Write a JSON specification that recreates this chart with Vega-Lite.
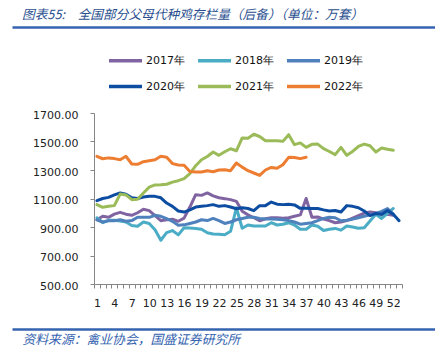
{
"$schema":"https://vega.github.io/schema/vega-lite/v6.json",
"padding":{"left":12,"top":9,"right":0,"bottom":0},
"background":"white",
"width":423,"height":171,
"config":{"view":{"stroke":null},"font":"DejaVu Sans"},
"title":{"text":"图表55:　全国部分父母代种鸡存栏量（后备）（单位：万套）","anchor":"start","frame":"group","dx":10,"offset":5,"font":"Noto Sans CJK SC","fontSize":12.7,"fontStyle":"italic","fontWeight":"normal","color":"#2a4f8f"},
"resolve":{"scale":{"x":"independent"},"axis":{"x":"independent"}},
"layer":[
{"data":{"values":[
{"s":"2017年","w":1,"v":951},{"s":"2017年","w":2,"v":975},{"s":"2017年","w":3,"v":968},{"s":"2017年","w":4,"v":990},{"s":"2017年","w":5,"v":1003},{"s":"2017年","w":6,"v":990},{"s":"2017年","w":7,"v":982},{"s":"2017年","w":8,"v":1000},{"s":"2017年","w":9,"v":1025},{"s":"2017年","w":10,"v":1015},{"s":"2017年","w":11,"v":980},{"s":"2017年","w":12,"v":944},{"s":"2017年","w":13,"v":950},{"s":"2017年","w":14,"v":955},{"s":"2017年","w":15,"v":940},{"s":"2017年","w":16,"v":962},{"s":"2017年","w":17,"v":1040},{"s":"2017年","w":18,"v":1127},{"s":"2017年","w":19,"v":1122},{"s":"2017年","w":20,"v":1139},{"s":"2017年","w":21,"v":1118},{"s":"2017年","w":22,"v":1105},{"s":"2017年","w":23,"v":1099},{"s":"2017年","w":24,"v":1092},{"s":"2017年","w":25,"v":1080},{"s":"2017年","w":26,"v":1010},{"s":"2017年","w":27,"v":985},{"s":"2017年","w":28,"v":965},{"s":"2017年","w":29,"v":944},{"s":"2017年","w":30,"v":958},{"s":"2017年","w":31,"v":965},{"s":"2017年","w":32,"v":965},{"s":"2017年","w":33,"v":962},{"s":"2017年","w":34,"v":965},{"s":"2017年","w":35,"v":975},{"s":"2017年","w":36,"v":985},{"s":"2017年","w":37,"v":1100},{"s":"2017年","w":38,"v":968},{"s":"2017年","w":39,"v":970},{"s":"2017年","w":40,"v":955},{"s":"2017年","w":41,"v":945},{"s":"2017年","w":42,"v":930},{"s":"2017年","w":43,"v":935},{"s":"2017年","w":44,"v":945},{"s":"2017年","w":45,"v":963},{"s":"2017年","w":46,"v":980},{"s":"2017年","w":47,"v":998},{"s":"2017年","w":48,"v":1005},{"s":"2017年","w":49,"v":1000},{"s":"2017年","w":50,"v":988},{"s":"2017年","w":51,"v":990},{"s":"2017年","w":52,"v":982},
{"s":"2018年","w":1,"v":965},{"s":"2018年","w":2,"v":930},{"s":"2018年","w":3,"v":947},{"s":"2018年","w":4,"v":947},{"s":"2018年","w":5,"v":942},{"s":"2018年","w":6,"v":935},{"s":"2018年","w":7,"v":910},{"s":"2018年","w":8,"v":905},{"s":"2018年","w":9,"v":935},{"s":"2018年","w":10,"v":925},{"s":"2018年","w":11,"v":880},{"s":"2018年","w":12,"v":807},{"s":"2018年","w":13,"v":860},{"s":"2018年","w":14,"v":875},{"s":"2018年","w":15,"v":845},{"s":"2018年","w":16,"v":895},{"s":"2018年","w":17,"v":893},{"s":"2018年","w":18,"v":890},{"s":"2018年","w":19,"v":884},{"s":"2018年","w":20,"v":860},{"s":"2018年","w":21,"v":851},{"s":"2018年","w":22,"v":849},{"s":"2018年","w":23,"v":845},{"s":"2018年","w":24,"v":870},{"s":"2018年","w":25,"v":1035},{"s":"2018年","w":26,"v":891},{"s":"2018年","w":27,"v":914},{"s":"2018年","w":28,"v":907},{"s":"2018年","w":29,"v":907},{"s":"2018年","w":30,"v":907},{"s":"2018年","w":31,"v":930},{"s":"2018年","w":32,"v":914},{"s":"2018年","w":33,"v":919},{"s":"2018年","w":34,"v":930},{"s":"2018年","w":35,"v":914},{"s":"2018年","w":36,"v":884},{"s":"2018年","w":37,"v":884},{"s":"2018年","w":38,"v":914},{"s":"2018年","w":39,"v":905},{"s":"2018年","w":40,"v":875},{"s":"2018年","w":41,"v":884},{"s":"2018年","w":42,"v":890},{"s":"2018年","w":43,"v":878},{"s":"2018年","w":44,"v":907},{"s":"2018年","w":45,"v":900},{"s":"2018年","w":46,"v":891},{"s":"2018年","w":47,"v":895},{"s":"2018年","w":48,"v":942},{"s":"2018年","w":49,"v":990},{"s":"2018年","w":50,"v":960},{"s":"2018年","w":51,"v":995},{"s":"2018年","w":52,"v":1030},
{"s":"2019年","w":1,"v":951},{"s":"2019年","w":2,"v":935},{"s":"2019年","w":3,"v":944},{"s":"2019年","w":4,"v":944},{"s":"2019年","w":5,"v":951},{"s":"2019年","w":6,"v":940},{"s":"2019年","w":7,"v":945},{"s":"2019年","w":8,"v":968},{"s":"2019年","w":9,"v":968},{"s":"2019年","w":10,"v":968},{"s":"2019年","w":11,"v":982},{"s":"2019年","w":12,"v":975},{"s":"2019年","w":13,"v":958},{"s":"2019年","w":14,"v":940},{"s":"2019年","w":15,"v":912},{"s":"2019年","w":16,"v":915},{"s":"2019年","w":17,"v":925},{"s":"2019年","w":18,"v":935},{"s":"2019年","w":19,"v":951},{"s":"2019年","w":20,"v":945},{"s":"2019年","w":21,"v":960},{"s":"2019年","w":22,"v":945},{"s":"2019年","w":23,"v":925},{"s":"2019年","w":24,"v":935},{"s":"2019年","w":25,"v":951},{"s":"2019年","w":26,"v":960},{"s":"2019年","w":27,"v":968},{"s":"2019年","w":28,"v":968},{"s":"2019年","w":29,"v":960},{"s":"2019年","w":30,"v":956},{"s":"2019年","w":31,"v":956},{"s":"2019年","w":32,"v":955},{"s":"2019年","w":33,"v":951},{"s":"2019年","w":34,"v":945},{"s":"2019年","w":35,"v":935},{"s":"2019年","w":36,"v":920},{"s":"2019年","w":37,"v":925},{"s":"2019年","w":38,"v":930},{"s":"2019年","w":39,"v":945},{"s":"2019年","w":40,"v":960},{"s":"2019年","w":41,"v":968},{"s":"2019年","w":42,"v":965},{"s":"2019年","w":43,"v":944},{"s":"2019年","w":44,"v":948},{"s":"2019年","w":45,"v":955},{"s":"2019年","w":46,"v":965},{"s":"2019年","w":47,"v":975},{"s":"2019年","w":48,"v":985},{"s":"2019年","w":49,"v":995},{"s":"2019年","w":50,"v":1010},{"s":"2019年","w":51,"v":1030},{"s":"2019年","w":52,"v":990},
{"s":"2020年","w":1,"v":1085},{"s":"2020年","w":2,"v":1100},{"s":"2020年","w":3,"v":1108},{"s":"2020年","w":4,"v":1125},{"s":"2020年","w":5,"v":1139},{"s":"2020年","w":6,"v":1130},{"s":"2020年","w":7,"v":1105},{"s":"2020年","w":8,"v":1100},{"s":"2020年","w":9,"v":1110},{"s":"2020年","w":10,"v":1115},{"s":"2020年","w":11,"v":1115},{"s":"2020年","w":12,"v":1105},{"s":"2020年","w":13,"v":1068},{"s":"2020年","w":14,"v":1045},{"s":"2020年","w":15,"v":1012},{"s":"2020年","w":16,"v":1005},{"s":"2020年","w":17,"v":1020},{"s":"2020年","w":18,"v":1040},{"s":"2020年","w":19,"v":1045},{"s":"2020年","w":20,"v":1050},{"s":"2020年","w":21,"v":1057},{"s":"2020年","w":22,"v":1045},{"s":"2020年","w":23,"v":1050},{"s":"2020年","w":24,"v":1040},{"s":"2020年","w":25,"v":1028},{"s":"2020年","w":26,"v":1035},{"s":"2020年","w":27,"v":1030},{"s":"2020年","w":28,"v":1015},{"s":"2020年","w":29,"v":1050},{"s":"2020年","w":30,"v":1050},{"s":"2020年","w":31,"v":1075},{"s":"2020年","w":32,"v":1060},{"s":"2020年","w":33,"v":1057},{"s":"2020年","w":34,"v":1060},{"s":"2020年","w":35,"v":1055},{"s":"2020年","w":36,"v":1031},{"s":"2020年","w":37,"v":1031},{"s":"2020年","w":38,"v":1030},{"s":"2020年","w":39,"v":1030},{"s":"2020年","w":40,"v":1020},{"s":"2020年","w":41,"v":1012},{"s":"2020年","w":42,"v":1016},{"s":"2020年","w":43,"v":1005},{"s":"2020年","w":44,"v":1050},{"s":"2020年","w":45,"v":1045},{"s":"2020年","w":46,"v":1035},{"s":"2020年","w":47,"v":1012},{"s":"2020年","w":48,"v":980},{"s":"2020年","w":49,"v":995},{"s":"2020年","w":50,"v":990},{"s":"2020年","w":51,"v":1015},{"s":"2020年","w":52,"v":990},{"s":"2020年","w":53,"v":944},
{"s":"2021年","w":1,"v":1057},{"s":"2021年","w":2,"v":1038},{"s":"2021年","w":3,"v":1045},{"s":"2021年","w":4,"v":1050},{"s":"2021年","w":5,"v":1131},{"s":"2021年","w":6,"v":1125},{"s":"2021年","w":7,"v":1092},{"s":"2021年","w":8,"v":1095},{"s":"2021年","w":9,"v":1139},{"s":"2021年","w":10,"v":1180},{"s":"2021年","w":11,"v":1195},{"s":"2021年","w":12,"v":1197},{"s":"2021年","w":13,"v":1200},{"s":"2021年","w":14,"v":1215},{"s":"2021年","w":15,"v":1225},{"s":"2021年","w":16,"v":1239},{"s":"2021年","w":17,"v":1275},{"s":"2021年","w":18,"v":1330},{"s":"2021年","w":19,"v":1372},{"s":"2021年","w":20,"v":1395},{"s":"2021年","w":21,"v":1426},{"s":"2021年","w":22,"v":1403},{"s":"2021年","w":23,"v":1428},{"s":"2021年","w":24,"v":1449},{"s":"2021年","w":25,"v":1435},{"s":"2021年","w":26,"v":1525},{"s":"2021年","w":27,"v":1523},{"s":"2021年","w":28,"v":1551},{"s":"2021年","w":29,"v":1535},{"s":"2021年","w":30,"v":1505},{"s":"2021年","w":31,"v":1506},{"s":"2021年","w":32,"v":1505},{"s":"2021年","w":33,"v":1501},{"s":"2021年","w":34,"v":1548},{"s":"2021年","w":35,"v":1478},{"s":"2021年","w":36,"v":1490},{"s":"2021年","w":37,"v":1459},{"s":"2021年","w":38,"v":1480},{"s":"2021年","w":39,"v":1482},{"s":"2021年","w":40,"v":1450},{"s":"2021年","w":41,"v":1430},{"s":"2021年","w":42,"v":1408},{"s":"2021年","w":43,"v":1459},{"s":"2021年","w":44,"v":1403},{"s":"2021年","w":45,"v":1430},{"s":"2021年","w":46,"v":1465},{"s":"2021年","w":47,"v":1482},{"s":"2021年","w":48,"v":1470},{"s":"2021年","w":49,"v":1426},{"s":"2021年","w":50,"v":1454},{"s":"2021年","w":51,"v":1445},{"s":"2021年","w":52,"v":1438},
{"s":"2022年","w":1,"v":1396},{"s":"2022年","w":2,"v":1379},{"s":"2022年","w":3,"v":1385},{"s":"2022年","w":4,"v":1380},{"s":"2022年","w":5,"v":1372},{"s":"2022年","w":6,"v":1396},{"s":"2022年","w":7,"v":1342},{"s":"2022年","w":8,"v":1340},{"s":"2022年","w":9,"v":1358},{"s":"2022年","w":10,"v":1365},{"s":"2022年","w":11,"v":1372},{"s":"2022年","w":12,"v":1396},{"s":"2022年","w":13,"v":1390},{"s":"2022年","w":14,"v":1345},{"s":"2022年","w":15,"v":1335},{"s":"2022年","w":16,"v":1333},{"s":"2022年","w":17,"v":1290},{"s":"2022年","w":18,"v":1286},{"s":"2022年","w":19,"v":1286},{"s":"2022年","w":20,"v":1295},{"s":"2022年","w":21,"v":1288},{"s":"2022年","w":22,"v":1300},{"s":"2022年","w":23,"v":1302},{"s":"2022年","w":24,"v":1295},{"s":"2022年","w":25,"v":1349},{"s":"2022年","w":26,"v":1320},{"s":"2022年","w":27,"v":1295},{"s":"2022年","w":28,"v":1279},{"s":"2022年","w":29,"v":1262},{"s":"2022年","w":30,"v":1300},{"s":"2022年","w":31,"v":1318},{"s":"2022年","w":32,"v":1312},{"s":"2022年","w":33,"v":1337},{"s":"2022年","w":34,"v":1389},{"s":"2022年","w":35,"v":1388},{"s":"2022年","w":36,"v":1380},{"s":"2022年","w":37,"v":1390}
]},
"mark":{"type":"line","strokeWidth":3,"strokeJoin":"round","strokeCap":"round"},
"encoding":{
"x":{"field":"w","type":"ordinal","scale":{"type":"band","paddingInner":0,"paddingOuter":0,"range":[82,390],"domain":[1,2,3,4,5,6,7,8,9,10,11,12,13,14,15,16,17,18,19,20,21,22,23,24,25,26,27,28,29,30,31,32,33,34,35,36,37,38,39,40,41,42,43,44,45,46,47,48,49,50,51,52,53]},
"axis":{"orient":"bottom","title":null,"tickBand":"extent","labelExpr":"(datum.value - 1) % 3 == 0 ? datum.label : ''","labelAngle":0,"labelFont":"DejaVu Sans","labelFontSize":11,"labelColor":"#222222","tickSize":4,"tickColor":"#868686","domainColor":"#868686","labelPadding":9,"grid":false,"labelOverlap":false,"labelBound":false,"labelFlush":false}},
"y":{"field":"v","type":"quantitative","scale":{"domain":[500,1700],"nice":false,"zero":false},
"axis":{"title":null,"offset":-82,"values":[500,700,900,1100,1300,1500,1700],"format":".2f","labelFont":"DejaVu Sans","labelFontSize":11,"labelColor":"#222222","tickSize":4,"tickColor":"#868686","domainColor":"#868686","labelPadding":12,"grid":false,"labelOffset":2}},
"color":{"field":"s","type":"nominal","scale":{"domain":["2017年","2018年","2019年","2020年","2021年","2022年"],"range":["#8064a2","#4bacc6","#4f81bd","#0c4da2","#9bbb59","#ed7d31"]},
"legend":{"title":null,"orient":"none","legendX":95,"legendY":-71,"direction":"horizontal","columns":3,"symbolType":"stroke","symbolSize":1089,"symbolStrokeWidth":3.5,"labelFont":"DejaVu Sans","labelFontSize":11,"labelColor":"#111111","labelOffset":2,"columnPadding":6,"rowPadding":-14,"padding":0}}
}},
{"data":{"values":[{"k":"header rule"}]},
"mark":{"type":"rule","opacity":0},
"encoding":{"x":{"datum":0,"type":"quantitative","scale":{"domain":[0,1]},"axis":{"orient":"top","offset":86,"domain":true,"domainOpacity":1,"domainColor":"#3463b0","domainWidth":2.5,"domainCap":"butt","ticks":false,"labels":false,"title":null,"grid":false,"zindex":1}}}},
{"data":{"values":[{"k":"footer rule"}]},
"mark":{"type":"rule","opacity":0},
"encoding":{"x":{"datum":0,"type":"quantitative","scale":{"domain":[0,1]},"axis":{"orient":"bottom","offset":45,"domain":true,"domainOpacity":1,"domainColor":"#3463b0","domainWidth":2.5,"domainCap":"butt","ticks":false,"labels":false,"grid":false,"zindex":1,"title":"资料来源：禽业协会，国盛证券研究所","titleAnchor":"start","titleAlign":"left","titleX":10,"titlePadding":4,"titleFont":"Noto Sans CJK SC","titleFontSize":12.8,"titleFontStyle":"italic","titleFontWeight":"normal","titleColor":"#3463b0"}}}}
]
}
